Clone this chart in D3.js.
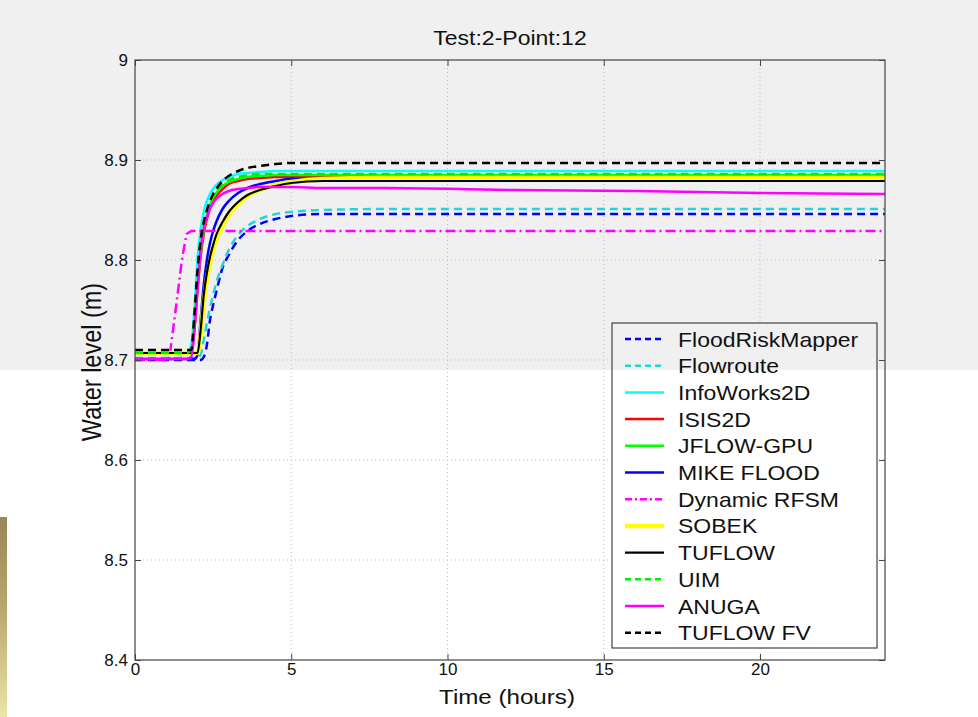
<!DOCTYPE html>
<html>
<head>
<meta charset="utf-8">
<script src="https://cdn.jsdelivr.net/npm/d3@7"></script>
<style>
  html, body { margin: 0; padding: 0; background: #ffffff; }
  svg { display: block; }
  text { font-family: "Liberation Sans", Arial, Helvetica, sans-serif; fill: #111; }
</style>
</head>
<body>
<svg id="chart" width="978" height="717"></svg>
<script>
// ---------------- data ----------------
const title = "Test:2-Point:12";
const xLabel = "Time (hours)";
const yLabel = "Water level (m)";
const xTicks = [0, 5, 10, 15, 20];
const yTicks = [8.4, 8.5, 8.6, 8.7, 8.8, 8.9, 9];
const xDomain = [0, 24];
const yDomain = [8.4, 9];

const hours = [0, 1.0, 1.1, 1.3, 1.5, 1.65, 1.8, 1.9, 2.0, 2.1, 2.2, 2.3, 2.4, 2.5, 2.6, 2.8, 3.0, 3.3, 3.6, 4.0, 4.5, 5.0, 6.0, 8.0, 12.0, 16.0, 20.0, 24.0];

const floodRiskMapper = [8.700,8.700,8.700,8.700,8.700,8.700,8.700,8.700,8.700,8.700,8.703,8.715,8.740,8.755,8.768,8.792,8.805,8.820,8.829,8.836,8.841,8.844,8.846,8.846,8.846,8.846,8.846,8.846];
const flowroute       = [8.702,8.702,8.702,8.702,8.702,8.702,8.702,8.702,8.702,8.705,8.720,8.737,8.752,8.765,8.777,8.795,8.810,8.825,8.834,8.841,8.846,8.848,8.850,8.851,8.851,8.851,8.851,8.851];
const infoWorks2D     = [8.707,8.707,8.707,8.707,8.707,8.707,8.715,8.750,8.800,8.830,8.848,8.859,8.866,8.871,8.875,8.880,8.883,8.886,8.887,8.888,8.889,8.889,8.889,8.889,8.889,8.889,8.889,8.889];
const isis2D          = [8.707,8.707,8.707,8.707,8.707,8.707,8.707,8.730,8.770,8.803,8.826,8.841,8.852,8.859,8.864,8.871,8.876,8.879,8.881,8.882,8.883,8.883,8.883,8.883,8.883,8.883,8.883,8.883];
const jflowGPU        = [8.707,8.707,8.707,8.707,8.707,8.707,8.709,8.735,8.775,8.808,8.830,8.845,8.855,8.862,8.867,8.874,8.878,8.881,8.883,8.884,8.885,8.885,8.885,8.885,8.885,8.885,8.885,8.885];
const mikeFlood       = [8.701,8.701,8.701,8.701,8.701,8.701,8.701,8.701,8.705,8.740,8.775,8.800,8.817,8.829,8.838,8.851,8.859,8.867,8.872,8.876,8.879,8.881,8.881,8.881,8.881,8.881,8.881,8.881];
const dynamicRFSM     = [8.700,8.700,8.702,8.750,8.800,8.826,8.829,8.829,8.829,8.829,8.829,8.829,8.829,8.829,8.829,8.829,8.829,8.829,8.829,8.829,8.829,8.829,8.829,8.829,8.829,8.829,8.829,8.829];
const sobek           = [8.707,8.707,8.707,8.707,8.707,8.707,8.707,8.707,8.707,8.725,8.758,8.781,8.797,8.810,8.820,8.834,8.845,8.856,8.864,8.870,8.875,8.878,8.881,8.882,8.882,8.882,8.882,8.882];
const tuflow          = [8.707,8.707,8.707,8.707,8.707,8.707,8.707,8.707,8.707,8.730,8.765,8.787,8.803,8.815,8.825,8.838,8.848,8.858,8.865,8.870,8.874,8.877,8.879,8.879,8.879,8.879,8.879,8.879];
const uim             = [8.707,8.707,8.707,8.707,8.707,8.707,8.710,8.740,8.780,8.812,8.834,8.848,8.858,8.864,8.869,8.876,8.880,8.883,8.885,8.886,8.886,8.886,8.886,8.886,8.886,8.886,8.886,8.886];
const anuga           = [8.701,8.701,8.701,8.701,8.701,8.701,8.703,8.730,8.770,8.810,8.832,8.843,8.851,8.857,8.861,8.866,8.869,8.871,8.872,8.873,8.873,8.873,8.872,8.872,8.870,8.869,8.867,8.866];
const tuflowFV        = [8.710,8.710,8.710,8.710,8.710,8.710,8.710,8.745,8.790,8.820,8.838,8.850,8.859,8.866,8.871,8.879,8.884,8.889,8.892,8.894,8.896,8.897,8.897,8.897,8.897,8.897,8.897,8.897];

const seriesNames = ["FloodRiskMapper","Flowroute","InfoWorks2D","ISIS2D","JFLOW-GPU","MIKE FLOOD","Dynamic RFSM","SOBEK","TUFLOW","UIM","ANUGA","TUFLOW FV"];
const seriesValues = [floodRiskMapper, flowroute, infoWorks2D, isis2D, jflowGPU, mikeFlood, dynamicRFSM, sobek, tuflow, uim, anuga, tuflowFV];

// ---------------- styles ----------------
const styles = [
  {color:"#0000ff", width:2.5, dash:"8,5",      legDash:"6,4"},
  {color:"#22d6d6", width:2.5, dash:"8,5",      legDash:"6,4"},
  {color:"#00ffff", width:2.5, dash:null,       legDash:null},
  {color:"#ff0000", width:2.5, dash:null,       legDash:null},
  {color:"#00ff00", width:2.5, dash:null,       legDash:null},
  {color:"#0000ff", width:2.5, dash:null,       legDash:null},
  {color:"#ff00ff", width:2.5, dash:"10,4,2,4", legDash:"7,3,2,3"},
  {color:"#ffff00", width:4.5, dash:null,       legDash:null},
  {color:"#000000", width:2.2, dash:null,       legDash:null},
  {color:"#00ee00", width:2.5, dash:"8,5",      legDash:"6,4"},
  {color:"#ff00ff", width:2.5, dash:null,       legDash:null},
  {color:"#000000", width:2.5, dash:"8,5",      legDash:"6,4"}
];

// ---------------- layout ----------------
const plot = {left:135, right:885, top:60, bottom:660};
const STRETCH = 1.15;
const svg = d3.select("#chart");

// background pieces
const defs = svg.append("defs");
const grad = defs.append("linearGradient").attr("id","gold").attr("x1",0).attr("y1",0).attr("x2",0).attr("y2",1);
grad.append("stop").attr("offset","0%").attr("stop-color","#9a8656");
grad.append("stop").attr("offset","45%").attr("stop-color","#b9a66c");
grad.append("stop").attr("offset","100%").attr("stop-color","#ebe5a6");

svg.append("rect").attr("x",0).attr("y",0).attr("width",978).attr("height",717).attr("fill","#ffffff");
svg.append("rect").attr("x",0).attr("y",0).attr("width",978).attr("height",370).attr("fill","#f0f0f0");
svg.append("rect").attr("x",0).attr("y",517).attr("width",7).attr("height",200).attr("fill","url(#gold)");

const x = d3.scaleLinear().domain(xDomain).range([plot.left, plot.right]);
const y = d3.scaleLinear().domain(yDomain).range([plot.bottom, plot.top]);

// grid
const grid = svg.append("g").attr("class","grid");
grid.selectAll("line.gx").data(xTicks.filter(d => d > xDomain[0])).join("line")
  .attr("x1", d => x(d)).attr("x2", d => x(d))
  .attr("y1", plot.top).attr("y2", plot.bottom)
  .attr("stroke","#bdbdbd").attr("stroke-width",1).attr("stroke-dasharray","1,3");
grid.selectAll("line.gy").data(yTicks.filter(d => d > yDomain[0] && d < yDomain[1])).join("line")
  .attr("y1", d => y(d)).attr("y2", d => y(d))
  .attr("x1", plot.left).attr("x2", plot.right)
  .attr("stroke","#bdbdbd").attr("stroke-width",1).attr("stroke-dasharray","1,3");

// lines
const line = d3.line().x(d => x(d[0])).y(d => y(d[1])).curve(d3.curveMonotoneX);
const lineLin = d3.line().x(d => x(d[0])).y(d => y(d[1]));
const gLines = svg.append("g");
seriesValues.forEach((vals, i) => {
  const pts = hours.map((h, k) => [h, vals[k]]);
  const st = styles[i];
  gLines.append("path")
    .attr("d", (seriesNames[i] === "Dynamic RFSM" ? lineLin : line)(pts))
    .attr("fill","none")
    .attr("stroke", st.color)
    .attr("stroke-width", st.width)
    .attr("stroke-dasharray", st.dash)
    .attr("stroke-linejoin","round");
});

// axes
const axisColor = "#444";
const gx = svg.append("g").attr("transform",`translate(0,${plot.bottom})`)
  .call(d3.axisBottom(x).tickValues(xTicks).tickSizeInner(-6).tickSizeOuter(0).tickPadding(3).tickFormat(d3.format("d")));
const gy = svg.append("g").attr("transform",`translate(${plot.left},0)`)
  .call(d3.axisLeft(y).tickValues(yTicks).tickSizeInner(-6).tickSizeOuter(0).tickPadding(7).tickFormat(d => d === 9 ? "9" : d3.format(".1f")(d)));
const gxt = svg.append("g").attr("transform",`translate(0,${plot.top})`)
  .call(d3.axisTop(x).tickValues(xTicks).tickSizeInner(-6).tickSizeOuter(0).tickFormat(""));
const gyr = svg.append("g").attr("transform",`translate(${plot.right},0)`)
  .call(d3.axisRight(y).tickValues(yTicks).tickSizeInner(-6).tickSizeOuter(0).tickFormat(""));
[gx, gy, gxt, gyr].forEach(g => {
  g.select(".domain").remove();
  g.selectAll(".tick line").attr("stroke", axisColor);
  g.selectAll(".tick text").style("font-size","17px").attr("fill","#111");
});
svg.append("rect")
  .attr("x", plot.left).attr("y", plot.top)
  .attr("width", plot.right - plot.left).attr("height", plot.bottom - plot.top)
  .attr("fill","none").attr("stroke", axisColor).attr("stroke-width",1.2);

// stretched text helper
function sText(px, py, str, size, anchor, rotate) {
  const g = svg.append("g").attr("transform", `translate(${px},${py}) scale(${STRETCH},1)` + (rotate ? ` rotate(${rotate})` : ""));
  return g.append("text").attr("x",0).attr("y",0)
    .attr("text-anchor", anchor).style("font-size", size + "px").text(str);
}

sText(510, 45, title, 20, "middle");
sText(507, 704, xLabel, 21, "middle");
sText(101, 362, yLabel, 23.5, "middle", -90);

// legend
const leg = {x:612, y:323, w:265, h:325};
svg.append("rect").attr("x",leg.x).attr("y",leg.y).attr("width",leg.w).attr("height",leg.h)
  .attr("fill","#ffffff");
svg.append("rect").attr("x",leg.x).attr("y",leg.y).attr("width",leg.w).attr("height",370 - leg.y)
  .attr("fill","#f0f0f0");
svg.append("rect").attr("x",leg.x).attr("y",leg.y).attr("width",leg.w).attr("height",leg.h)
  .attr("fill","none").attr("stroke", axisColor).attr("stroke-width",1.2);
const rowH = 26.7;
seriesNames.forEach((name, i) => {
  const cy = 339 + i * rowH;
  const st = styles[i];
  svg.append("line").attr("x1",625).attr("x2",664).attr("y1",cy).attr("y2",cy)
    .attr("stroke", st.color).attr("stroke-width", st.width)
    .attr("stroke-dasharray", st.legDash);
  sText(678, cy + 7.5, name, 20, "start");
});
</script>
</body>
</html>
